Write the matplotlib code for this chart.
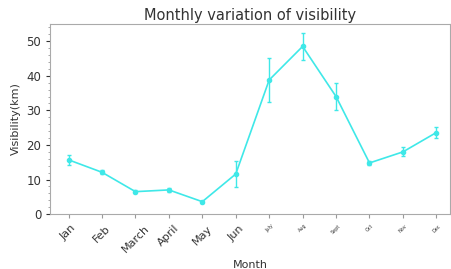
import matplotlib
matplotlib.use("Agg")
import matplotlib.pyplot as plt
from matplotlib.ticker import MultipleLocator

months = ["Jan", "Feb", "March", "April", "May", "Jun",
          "July", "Aug", "Sept", "Oct", "Nov", "Dec"]
visibility = [15.7, 12.1, 6.5, 7.0, 3.6, 11.6, 38.8, 48.5, 34.0, 14.8, 18.0, 23.6]
err = [1.5, 0.6, 0.5, 0.6, 0.3, 3.8, 6.3, 4.0, 4.0, 0.5, 1.3, 1.7]

color = "#3fe8e8"

fig = plt.figure(figsize=(4.52, 2.69), dpi=100)
ax = fig.add_axes([0.111, 0.204, 0.884, 0.707])

x = list(range(len(months)))
ax.errorbar(x, visibility, yerr=err, color=color, lw=1.2, marker="o", ms=3,
            elinewidth=1.0, capsize=1.5)

ax.set_xlim(-0.55, 11.4)
ax.set_ylim(0, 55)
ax.yaxis.set_major_locator(MultipleLocator(10))
ax.yaxis.set_minor_locator(MultipleLocator(2))
ax.set_xticks(x)
ax.set_xticklabels(months, rotation=45)
for i, lab in enumerate(ax.get_xticklabels()):
    lab.set_fontsize(8 if i < 6 else 3.5)
    lab.set_color("#333333")
ax.tick_params(axis="y", labelsize=8.5, colors="#333333", length=3)
ax.tick_params(axis="y", which="minor", length=1.5, color="#999999")
ax.tick_params(axis="x", length=3, color="#999999")
for s in ax.spines.values():
    s.set_color("#aaaaaa")

ax.set_title("Monthly variation of visibility", fontsize=10.5, color="#333333", pad=3)
ax.set_xlabel("Month", fontsize=8, color="#333333")
ax.set_ylabel("Visibility(km)", fontsize=8, color="#333333")

fig.savefig("out.png", dpi=100)
